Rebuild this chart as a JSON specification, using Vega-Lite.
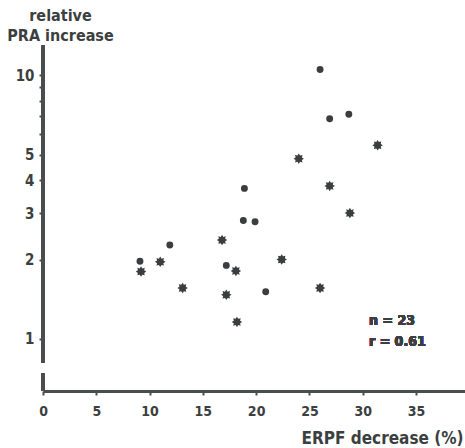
{
  "$schema": "https://vega.github.io/schema/vega-lite/v6.json",
  "autosize": "none",
  "width": 422,
  "height": 346,
  "padding": {"left": 43, "top": 45, "right": 0, "bottom": 57},
  "background": "white",
  "config": {
    "view": {"stroke": null},
    "font": "DejaVu Sans Condensed",
    "axis": {"grid": false, "labelFont": "DejaVu Sans Condensed", "titleFont": "DejaVu Sans Condensed", "labelFontWeight": "bold", "titleFontWeight": "bold", "labelColor": "#3c3f40", "titleColor": "#3c3f40", "tickColor": "#4a4d4e", "domainColor": "#4a4d4e"}
  },
  "data": {"values": [
    {"erpf": 26.0, "pra": 10.5, "group": "dot"},
    {"erpf": 26.9, "pra": 6.83, "group": "dot"},
    {"erpf": 28.7, "pra": 7.10, "group": "dot"},
    {"erpf": 18.9, "pra": 3.72, "group": "dot"},
    {"erpf": 18.8, "pra": 2.81, "group": "dot"},
    {"erpf": 19.9, "pra": 2.78, "group": "dot"},
    {"erpf": 11.9, "pra": 2.27, "group": "dot"},
    {"erpf": 9.1, "pra": 1.97, "group": "dot"},
    {"erpf": 17.2, "pra": 1.90, "group": "dot"},
    {"erpf": 20.9, "pra": 1.51, "group": "dot"},
    {"erpf": 31.4, "pra": 5.42, "group": "star"},
    {"erpf": 24.0, "pra": 4.82, "group": "star"},
    {"erpf": 26.9, "pra": 3.80, "group": "star"},
    {"erpf": 28.8, "pra": 3.00, "group": "star"},
    {"erpf": 16.8, "pra": 2.37, "group": "star"},
    {"erpf": 11.0, "pra": 1.96, "group": "star"},
    {"erpf": 22.4, "pra": 2.00, "group": "star"},
    {"erpf": 9.2, "pra": 1.80, "group": "star"},
    {"erpf": 18.1, "pra": 1.81, "group": "star"},
    {"erpf": 13.1, "pra": 1.56, "group": "star"},
    {"erpf": 17.2, "pra": 1.47, "group": "star"},
    {"erpf": 26.0, "pra": 1.56, "group": "star"},
    {"erpf": 18.2, "pra": 1.16, "group": "star"}
  ]},
  "layer": [
    {
      "mark": {"type": "rule", "strokeWidth": 3, "color": "#4a4d4e"},
      "encoding": {
        "x": {"datum": 0, "type": "quantitative", "scale": {"domain": [0, 39.6], "nice": false, "zero": false}},
        "y": {"datum": 0.811, "type": "quantitative", "scale": {"type": "log", "domain": [0.635, 13], "nice": false}},
        "y2": {"datum": 13}
      }
    },
    {
      "mark": {"type": "rule", "strokeWidth": 3, "color": "#4a4d4e"},
      "encoding": {
        "x": {"datum": 0, "type": "quantitative"},
        "y": {"datum": 0.635, "type": "quantitative"},
        "y2": {"datum": 0.743}
      }
    },
    {
      "mark": {"type": "point", "filled": true, "opacity": 1, "color": "#3a3e3f"},
      "encoding": {
        "x": {
          "field": "erpf", "type": "quantitative",
          "scale": {"domain": [0, 39.6], "nice": false, "zero": false},
          "axis": {
            "values": [0, 5, 10, 15, 20, 25, 30, 35],
            "domainWidth": 3, "tickWidth": 2, "tickSize": 4, "labelPadding": 9,
            "labelFontSize": 14, "labelFlush": false,
            "title": "ERPF decrease (%)", "titleFontSize": 17,
            "titleAnchor": "end", "titleAlign": "right", "titleBaseline": "alphabetic",
            "titleX": 420, "titleY": 52
          }
        },
        "y": {
          "field": "pra", "type": "quantitative",
          "scale": {"type": "log", "domain": [0.635, 13], "nice": false},
          "axis": {
            "values": [1, 2, 3, 4, 5, 6, 7, 8, 9, 10],
            "labelExpr": "datum.value == 1 || datum.value == 2 || datum.value == 3 || datum.value == 4 || datum.value == 5 || datum.value == 10 ? datum.label : ''",
            "domain": false, "tickWidth": 2, "tickSize": 4, "tickOffset": 0, "labelPadding": 5,
            "labelFontSize": 15,
            "title": ["relative", "PRA increase"], "titleFontSize": 16, "titleAngle": 0,
            "titleAlign": "center", "titleBaseline": "alphabetic", "titleLineHeight": 20,
            "titleX": 17, "titleY": -25
          }
        },
        "shape": {
          "field": "group", "type": "nominal",
          "scale": {"domain": ["dot", "star"], "range": ["circle", "M1,0L0.6,0.25L0.71,0.71L0.25,0.6L0,1L-0.25,0.6L-0.71,0.71L-0.6,0.25L-1,0L-0.6,-0.25L-0.71,-0.71L-0.25,-0.6L0,-1L0.25,-0.6L0.71,-0.71L0.6,-0.25Z"]},
          "legend": null
        },
        "size": {
          "field": "group", "type": "nominal",
          "scale": {"domain": ["dot", "star"], "range": [48, 110]},
          "legend": null
        }
      }
    },
    {
      "mark": {"type": "text", "align": "left", "baseline": "alphabetic", "fontSize": 14, "fontWeight": "bold", "font": "DejaVu Sans Condensed", "color": "#3c3f40", "lineHeight": 21, "text": ["n = 23", "r = 0.61"]},
      "encoding": {
        "x": {"datum": 30.6, "type": "quantitative"},
        "y": {"datum": 1.13, "type": "quantitative"}
      }
    }
  ]
}
